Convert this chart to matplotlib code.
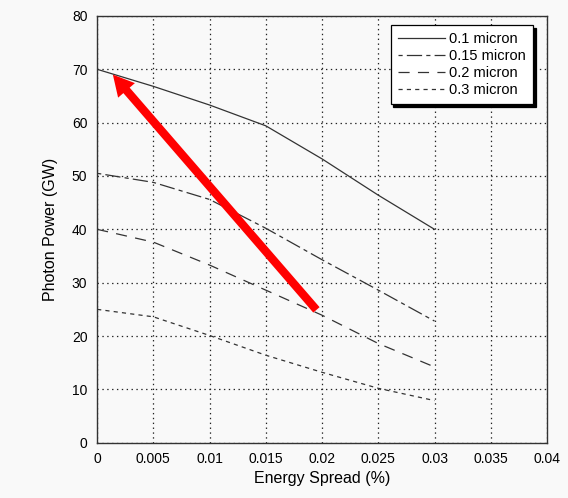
import numpy as np
import matplotlib.pyplot as plt
from matplotlib.patches import FancyArrowPatch

plt.rcParams['font.family'] = ['Liberation Sans', 'DejaVu Sans']
plt.rcParams['lines.scale_dashes'] = False

# ------------------------------ Data ------------------------------

spread = [0.0, 0.005, 0.01, 0.015, 0.02, 0.025, 0.03]   # energy spread (%)

power_01 = [70.0, 66.8, 63.3, 59.4, 53.2, 46.4, 40.0]
power_015 = [50.5, 48.8, 45.6, 40.2, 34.3, 28.6, 22.8]
power_02 = [40.0, 37.6, 33.3, 28.6, 23.9, 18.6, 14.2]
power_03 = [25.0, 23.6, 20.1, 16.4, 13.2, 10.2, 7.9]

labels = ['0.1 micron', '0.15 micron', '0.2 micron', '0.3 micron']

arrow_tail = (0.0195, 24.9)
arrow_tip = (0.0014, 69.0)

# ------------------------------ Plotting ------------------------------

fig = plt.figure(figsize=(5.68, 4.98), dpi=100, facecolor='#f9f9f9')
ax = fig.add_axes([0.171, 0.111, 0.792, 0.857])
ax.set_facecolor('#f9f9f9')

line_color = '#333333'
styles = ['-', (0, (3, 3, 11, 3)), (0, (8, 6)), (0, (3, 3))]
series = [power_01, power_015, power_02, power_03]

for vals, ls, lab in zip(series, styles, labels):
    ax.plot(spread, vals, color=line_color, lw=0.9, linestyle=ls, label=lab)

# red arrow pointing to the top-left
arrow = FancyArrowPatch(arrow_tail, arrow_tip,
                        arrowstyle='simple,head_length=1.5,head_width=1.6,tail_width=0.6',
                        mutation_scale=10, color='red', lw=0,
                        shrinkA=0, shrinkB=0, zorder=5)
ax.add_patch(arrow)

ax.set_xlim(0, 0.04)
ax.set_ylim(0, 80)
ax.set_xticks(np.arange(0, 0.0401, 0.005))
ax.set_xticklabels(['0', '0.005', '0.01', '0.015', '0.02', '0.025', '0.03', '0.035', '0.04'])
ax.set_yticks(range(0, 81, 10))
ax.tick_params(length=0, labelsize=10, pad=7)

ax.grid(True, color='#222222', linestyle=(0, (1, 2.5)), lw=0.9)
for sp in ax.spines.values():
    sp.set_color('#333333')
    sp.set_linewidth(1.0)

ax.set_xlabel('Energy Spread (%)', fontsize=11.5, labelpad=3)
ax.set_ylabel('Photon Power (GW)', fontsize=11.5, labelpad=10)

leg = ax.legend(loc='upper right', bbox_to_anchor=(0.969, 0.979), borderaxespad=0,
                fontsize=10.5, handlelength=3.2, handletextpad=0.3,
                labelspacing=0.2, borderpad=0.5, fancybox=False, framealpha=1,
                edgecolor='black', facecolor='white',
                shadow={'color': 'black', 'alpha': 1.0})
leg.get_frame().set_linewidth(0.9)

plt.savefig('out.png', dpi=100, facecolor=fig.get_facecolor())
